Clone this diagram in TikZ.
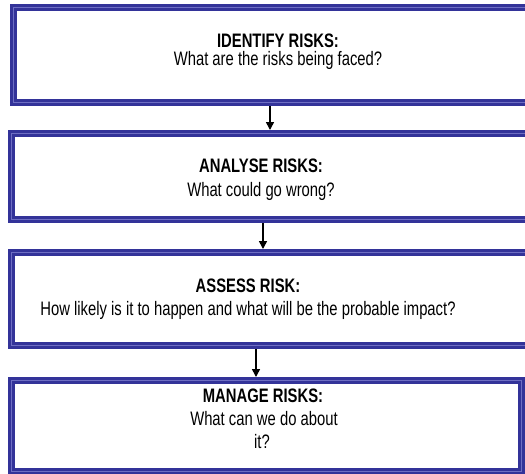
\documentclass[tikz,border=0pt]{standalone}
\usepackage{fontspec}
\setmainfont[FakeStretch=0.76]{Liberation Sans}
\usetikzlibrary{arrows.meta}
\definecolor{bandblue}{RGB}{51,51,153}
\definecolor{bandlight}{RGB}{110,110,195}

\begin{document}
\begin{tikzpicture}[x=1pt,y=-1pt,>={Triangle[length=8pt,width=8pt]},
  riskbox/.style={draw=bandblue,line width=3.2pt,double=bandlight,double distance=0.6pt,inner sep=0pt,outer sep=3.5pt},
  headtext/.style={anchor=base,font=\fontsize{19.5}{20}\selectfont\bfseries},
  bodytext/.style={anchor=base,font=\fontsize{19.5}{20}\selectfont},
  flow/.style={->,line width=1.5pt,black}]
  \useasboundingbox (0,0) rectangle (525,474);
  \clip (0,0) rectangle (525,474);
  % boxes
  \node[riskbox,minimum width=526.5pt,minimum height=95pt] (idbox) at (276.75,55) {};
  \node[riskbox,minimum width=528.5pt,minimum height=86pt] (anbox) at (275.75,176.5) {};
  \node[riskbox,minimum width=528.5pt,minimum height=93pt] (asbox) at (275.75,299) {};
  \node[riskbox,minimum width=509.5pt,minimum height=91pt] (mgbox) at (266.25,426) {};
  % texts
  \node[headtext] (idhead) at (278,47) {IDENTIFY RISKS:};
  \node[bodytext] (idbody) at (278,65.5) {What are the risks being faced?};
  \node[headtext] (anhead) at (261,172) {ANALYSE RISKS:};
  \node[bodytext] (anbody) at (261,196) {What could go wrong?};
  \node[headtext] (ashead) at (248,292) {ASSESS RISK:};
  \node[bodytext] (asbody) at (248,315) {How likely is it to happen and what will be the probable impact?};
  \node[headtext] (mghead) at (263,402) {MANAGE RISKS:};
  \node[bodytext] (mgbody) at (264,425) {What can we do about};
  \node[bodytext] (mgtail) at (262,448) {it?};
  % arrows
  \draw[flow] ([xshift=260pt]idbox.south west) -- ([xshift=262pt]anbox.north west);
  \draw[flow] ([xshift=255pt]anbox.south west) -- ([xshift=255pt]asbox.north west);
  \draw[flow] ([xshift=248pt]asbox.south west) -- ([xshift=248pt]mgbox.north west);
\end{tikzpicture}
\end{document}
